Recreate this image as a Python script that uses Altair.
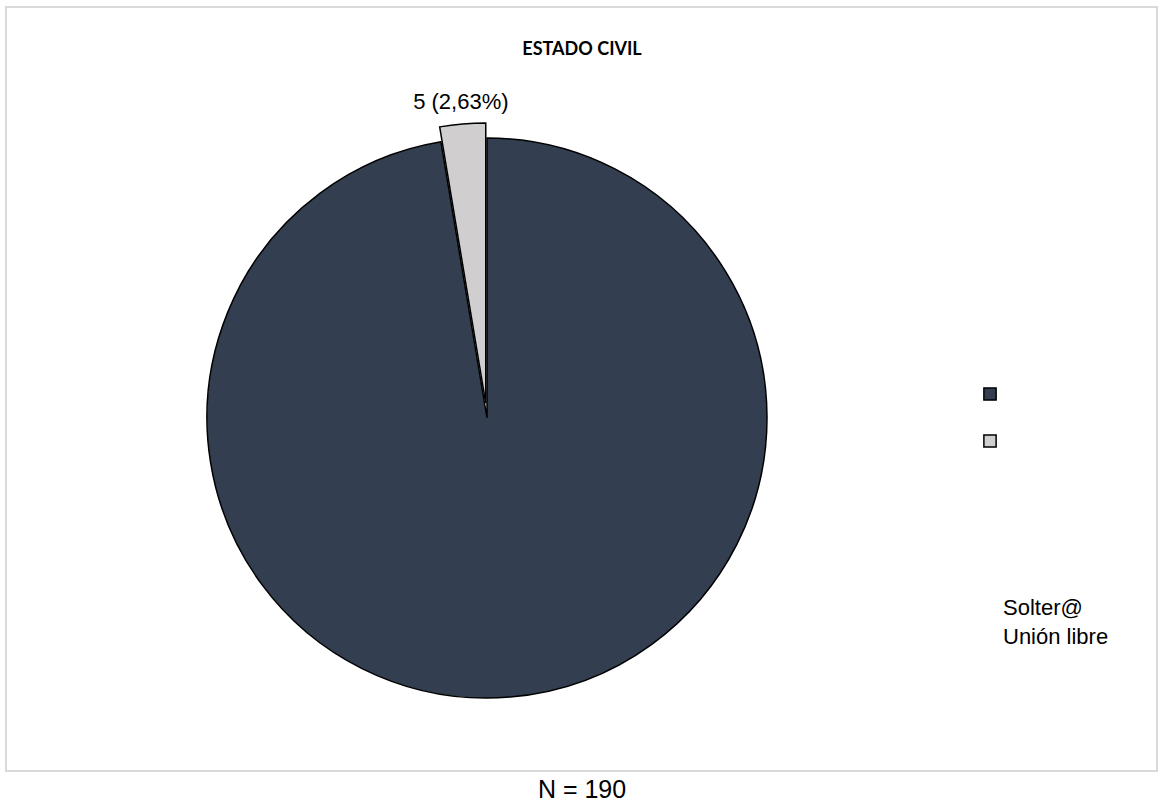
import math
import altair as alt
import pandas as pd

categories = ["Solter@", "Unión libre"]
values = [185, 5]
colors = ["#333F50", "#D0CECE"]
title_text = "ESTADO CIVIL"
footer_text = "N = 190"

total = sum(values)
ends = []
acc = 0
for v in values:
    acc += v
    ends.append(acc)
starts = [e - v for e, v in zip(ends, values)]
labels = [f"{v} ({v / total * 100:.2f}%)".replace(".", ",") for v in values]
df = pd.DataFrame({
    "cat": categories,
    "value": values,
    "start": starts,
    "end": ends,
    "mid": [(s + e) / 2 for s, e in zip(starts, ends)],
    "label": labels,
})

W, H = 1164, 808
cx, cy, R = 487, 418, 280
explode = 15
mid_small = (starts[1] + ends[1]) / 2 / total * 2 * math.pi
ex_x = cx + explode * math.sin(mid_small)
ex_y = cy - explode * math.cos(mid_small)

theta_scale = alt.Scale(domain=[0, total], range=[0, 2 * math.pi])
color_enc = alt.Color(
    "cat:N",
    scale=alt.Scale(domain=categories, range=colors),
    legend=alt.Legend(
        orient="none", legendX=983, legendY=387, title=None,
        symbolType="square", symbolSize=150, symbolStrokeColor="black",
        symbolStrokeWidth=1.5, labelExpr="''", labelFontSize=1,
        rowPadding=27, symbolOpacity=1,
    ),
)

base = alt.Chart(df)

border = base.mark_rect(fill=None, stroke="#D9D9D9", strokeWidth=2).encode(
    x=alt.value(6), x2=alt.value(1157), y=alt.value(7), y2=alt.value(771)
).transform_filter(alt.datum.cat == categories[0])

big = base.transform_filter(alt.datum.cat == categories[0]).mark_arc(
    outerRadius=R, stroke="black", strokeWidth=1.5
).encode(
    theta=alt.Theta("start:Q", scale=theta_scale),
    theta2="end:Q",
    color=color_enc,
    x=alt.value(cx), y=alt.value(cy),
)

small = base.transform_filter(alt.datum.cat == categories[1]).mark_arc(
    outerRadius=R, stroke="black", strokeWidth=1.5
).encode(
    theta=alt.Theta("start:Q", scale=theta_scale),
    theta2="end:Q",
    color=color_enc,
    x=alt.value(ex_x), y=alt.value(ex_y),
)

slice_label = base.transform_filter(alt.datum.cat == categories[1]).mark_text(
    font="Liberation Sans", fontSize=22, color="#000000", align="center", baseline="middle"
).encode(
    theta=alt.Theta("mid:Q", scale=theta_scale),
    radius=alt.value(317),
    text="label:N",
    x=alt.value(cx), y=alt.value(cy),
)

legend_text = base.mark_text(
    font="Liberation Sans", fontSize=22, color="#000000", align="left", baseline="middle"
).encode(
    x=alt.value(1003),
    y=alt.Y("cat:N", scale=alt.Scale(domain=categories, range=[608, 637], padding=0), axis=None),
    text="cat:N",
)

title = base.transform_filter(alt.datum.cat == categories[0]).mark_text(
    font="Lato", fontWeight="bold", fontSize=18, color="#000000", align="center", baseline="middle"
).encode(x=alt.value(582), y=alt.value(50), text=alt.value(title_text))

footer = base.transform_filter(alt.datum.cat == categories[0]).mark_text(
    font="Liberation Sans", fontSize=25, color="#000000", align="center", baseline="middle"
).encode(x=alt.value(582), y=alt.value(790), text=alt.value(footer_text))

chart = alt.layer(border, big, small, slice_label, legend_text, title, footer).properties(
    width=W, height=H, autosize=alt.AutoSizeParams(type="none"), padding=0,
    background="white",
).configure_view(stroke=None)

chart.save("out.html", embed_options={"renderer": "svg", "actions": False})
